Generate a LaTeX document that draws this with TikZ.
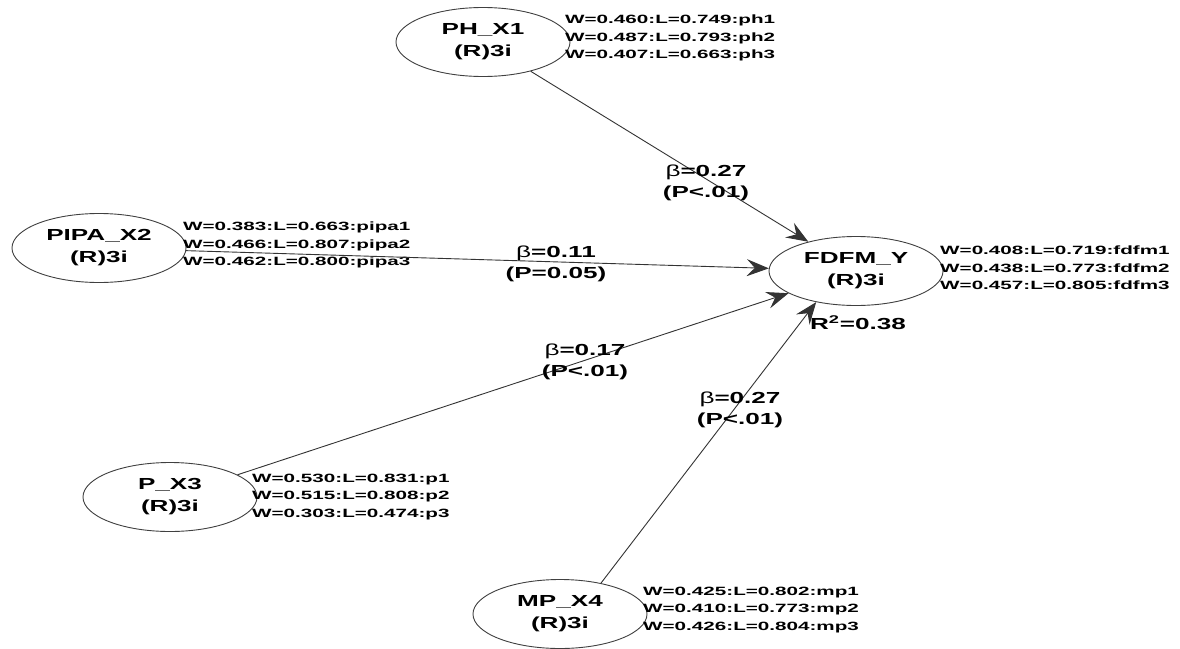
\documentclass[tikz,border=0pt]{standalone}
\usepackage{fontspec}
\setmainfont{Liberation Sans}
\usetikzlibrary{arrows.meta,shapes.geometric}
\newcommand\bigtxt[1]{\scalebox{1.63}[1]{#1}}
\newcommand\smtxt[1]{\scalebox{1.72}[1]{#1}}
\newcommand\betasym{{\mdseries β}}
\begin{document}
\begin{tikzpicture}[x=1pt,y=-1pt,
  lv/.style={ellipse, draw=black!75, line width=0.9pt, inner sep=0pt,
    minimum width=174pt, minimum height=69pt, align=center,
    font=\fontsize{16}{22}\selectfont\bfseries},
  ind/.style={anchor=west, inner sep=0pt, align=left,
    font=\fontsize{12}{17.5}\selectfont\bfseries},
  coef/.style={align=center, inner sep=0pt,
    font=\fontsize{16}{21}\selectfont\bfseries},
  rel/.style={draw=black!80, line width=0.9pt,
    -{Stealth[length=22pt,width=17pt,inset=8pt]}}]
\fill[white] (0,0) rectangle (1180,648);
\useasboundingbox (0,0) rectangle (1180,648);

% latent variables
\node[lv] (ph) at (483,42) {\bigtxt{PH\_X1}\\\bigtxt{(R)3i}};
\node[lv] (pipa) at (99,248) {\bigtxt{PIPA\_X2}\\\bigtxt{(R)3i}};
\node[lv] (fd) at (856,271) {\bigtxt{FDFM\_Y}\\\bigtxt{(R)3i}};
\node[lv] (px) at (170,497) {\bigtxt{P\_X3}\\\bigtxt{(R)3i}};
\node[lv] (mp) at (560,614) {\bigtxt{MP\_X4}\\\bigtxt{(R)3i}};

% indicator weights / loadings
\node[ind] (phi) at (565,38) {\smtxt{W=0.460:L=0.749:ph1}\\\smtxt{W=0.487:L=0.793:ph2}\\\smtxt{W=0.407:L=0.663:ph3}};
\node[ind] (pipai) at (183,245) {\smtxt{W=0.383:L=0.663:pipa1}\\\smtxt{W=0.466:L=0.807:pipa2}\\\smtxt{W=0.462:L=0.800:pipa3}};
\node[ind] (fdi) at (940,268) {\smtxt{W=0.408:L=0.719:fdfm1}\\\smtxt{W=0.438:L=0.773:fdfm2}\\\smtxt{W=0.457:L=0.805:fdfm3}};
\node[ind] (pxi) at (252,497) {\smtxt{W=0.530:L=0.831:p1}\\\smtxt{W=0.515:L=0.808:p2}\\\smtxt{W=0.303:L=0.474:p3}};
\node[ind] (mpi) at (643,610) {\smtxt{W=0.425:L=0.802:mp1}\\\smtxt{W=0.410:L=0.773:mp2}\\\smtxt{W=0.426:L=0.804:mp3}};

% paths
\draw[rel] (ph) -- (fd);
\draw[rel] (pipa) -- (fd);
\draw[rel] (px) -- (fd);
\draw[rel] (mp.37) -- (fd.218);

% coefficients
\node[coef] (c1) at (706,183) {\bigtxt{\betasym=0.27}\\\bigtxt{(P<.01)}};
\node[coef] (c2) at (556,264) {\bigtxt{\betasym=0.11}\\\bigtxt{(P=0.05)}};
\node[coef] (c3) at (585,362) {\bigtxt{\betasym=0.17}\\\bigtxt{(P<.01)}};
\node[coef] (c4) at (740,410) {\bigtxt{\betasym=0.27}\\\bigtxt{(P<.01)}};
\node[coef] (r2) at (858,323) {\bigtxt{R\textsuperscript{2}=0.38}};
\end{tikzpicture}
\end{document}
